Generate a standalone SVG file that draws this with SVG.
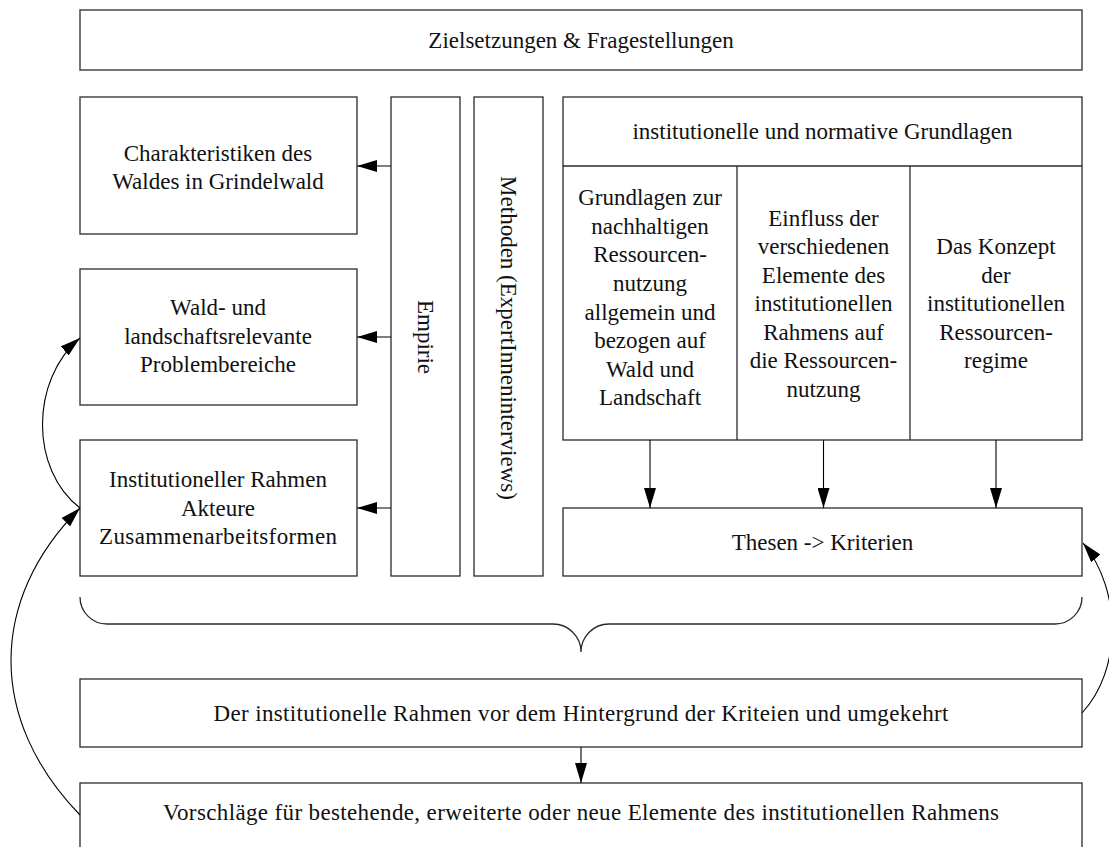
<svg xmlns="http://www.w3.org/2000/svg" width="1109" height="847" viewBox="0 0 1109 847">
  <style>
    .box { fill: #ffffff; stroke: #2a2a2a; stroke-width: 1.3; }
    .lbl { font-family: "Liberation Serif", "Times New Roman", serif; font-size: 23px; fill: #111; text-anchor: middle; dominant-baseline: central; }
    .edge { fill: none; stroke: #000; stroke-width: 1.1; }
    .brace { fill: none; stroke: #2a2a2a; stroke-width: 1.3; }
  </style>
  <defs>
    <marker id="arrow" viewBox="0 0 20 12" refX="20" refY="6" markerWidth="20" markerHeight="12" markerUnits="userSpaceOnUse" orient="auto">
      <path d="M0,0 L20,6 L0,12 Z" fill="#000"/>
    </marker>
  </defs>
  <rect width="1109" height="847" fill="#ffffff"/>

  <g id="ziele">
    <rect class="box" x="80" y="10" width="1002" height="60"/>
    <text class="lbl" x="581" y="40">Zielsetzungen &amp; Fragestellungen</text>
  </g>

  <g id="charakteristiken">
    <rect class="box" x="80" y="97" width="277" height="137"/>
    <text class="lbl" x="218" y="153">Charakteristiken des</text>
    <text class="lbl" x="218" y="181">Waldes in Grindelwald</text>
  </g>

  <g id="problembereiche">
    <rect class="box" x="80" y="269" width="277" height="136"/>
    <text class="lbl" x="218" y="307">Wald- und</text>
    <text class="lbl" x="218" y="336">landschaftsrelevante</text>
    <text class="lbl" x="218" y="364">Problembereiche</text>
  </g>

  <g id="rahmen">
    <rect class="box" x="80" y="440" width="277" height="136"/>
    <text class="lbl" x="218" y="479">Institutioneller Rahmen</text>
    <text class="lbl" x="218" y="508">Akteure</text>
    <text class="lbl" x="218" y="536" textLength="238" lengthAdjust="spacing">Zusammenarbeitsformen</text>
  </g>

  <g id="empirie">
    <rect class="box" x="391" y="97" width="69" height="479"/>
    <text class="lbl" transform="translate(425.5,337) rotate(90)">Empirie</text>
  </g>

  <g id="methoden">
    <rect class="box" x="474" y="97" width="69" height="479"/>
    <text class="lbl" transform="translate(508.5,338) rotate(90)">Methoden (ExpertInneninterviews)</text>
  </g>

  <g id="grundlagen">
    <rect class="box" x="563" y="97" width="519" height="343"/>
    <line class="box" x1="563" y1="166" x2="1082" y2="166"/>
    <line class="box" x1="737" y1="166" x2="737" y2="440"/>
    <line class="box" x1="910" y1="166" x2="910" y2="440"/>
    <text class="lbl" x="822.5" y="131">institutionelle und normative Grundlagen</text>
  </g>

  <g id="nachhaltigkeit">
    <text class="lbl" x="650" y="197">Grundlagen zur</text>
    <text class="lbl" x="650" y="226">nachhaltigen</text>
    <text class="lbl" x="650" y="254">Ressourcen-</text>
    <text class="lbl" x="650" y="283">nutzung</text>
    <text class="lbl" x="650" y="312">allgemein und</text>
    <text class="lbl" x="650" y="340">bezogen auf</text>
    <text class="lbl" x="650" y="369">Wald und</text>
    <text class="lbl" x="650" y="397">Landschaft</text>
  </g>

  <g id="einfluss">
    <text class="lbl" x="823.5" y="218">Einfluss der</text>
    <text class="lbl" x="823.5" y="246">verschiedenen</text>
    <text class="lbl" x="823.5" y="275">Elemente des</text>
    <text class="lbl" x="823.5" y="303">institutionellen</text>
    <text class="lbl" x="823.5" y="332">Rahmens auf</text>
    <text class="lbl" x="823.5" y="360">die Ressourcen-</text>
    <text class="lbl" x="823.5" y="389">nutzung</text>
  </g>

  <g id="regime">
    <text class="lbl" x="996" y="246">Das Konzept</text>
    <text class="lbl" x="996" y="275">der</text>
    <text class="lbl" x="996" y="303">institutionellen</text>
    <text class="lbl" x="996" y="332">Ressourcen-</text>
    <text class="lbl" x="996" y="360">regime</text>
  </g>

  <g id="thesen">
    <rect class="box" x="563" y="508" width="519" height="68"/>
    <text class="lbl" x="822.5" y="542">Thesen -&gt; Kriterien</text>
  </g>

  <g id="klammer">
    <path class="brace" d="M80,597 A27,27 0 0 0 107,624 L553,624 A28,28 0 0 1 581,652 A28,28 0 0 1 609,624 L1055,624 A27,27 0 0 0 1082,597"/>
  </g>

  <g id="abgleich">
    <rect class="box" x="80" y="679" width="1002" height="68"/>
    <text class="lbl" x="581" y="713" textLength="735" lengthAdjust="spacing">Der institutionelle Rahmen vor dem Hintergrund der Kriteien und umgekehrt</text>
  </g>

  <g id="vorschlaege">
    <rect class="box" x="80" y="783" width="1002" height="70"/>
    <text class="lbl" x="581" y="812" textLength="836" lengthAdjust="spacing">Vorschläge für bestehende, erweiterte oder neue Elemente des institutionellen Rahmens</text>
  </g>

  <g id="connectors">
    <line class="edge" x1="391" y1="166" x2="357" y2="166" marker-end="url(#arrow)"/>
    <line class="edge" x1="391" y1="337" x2="357" y2="337" marker-end="url(#arrow)"/>
    <line class="edge" x1="391" y1="508" x2="357" y2="508" marker-end="url(#arrow)"/>
    <line class="edge" x1="650" y1="440" x2="650" y2="508" marker-end="url(#arrow)"/>
    <line class="edge" x1="823.5" y1="440" x2="823.5" y2="508" marker-end="url(#arrow)"/>
    <line class="edge" x1="996" y1="440" x2="996" y2="508" marker-end="url(#arrow)"/>
    <line class="edge" x1="581" y1="747" x2="581" y2="783" marker-end="url(#arrow)"/>
    <path class="edge" d="M80,508 C30,470 30,380 80,338" marker-end="url(#arrow)"/>
    <path class="edge" d="M80,815 C-12,720 -12,600 80,508" marker-end="url(#arrow)"/>
    <path class="edge" d="M1082,713 C1122,670 1122,590 1083,543" marker-end="url(#arrow)"/>
  </g>
</svg>
